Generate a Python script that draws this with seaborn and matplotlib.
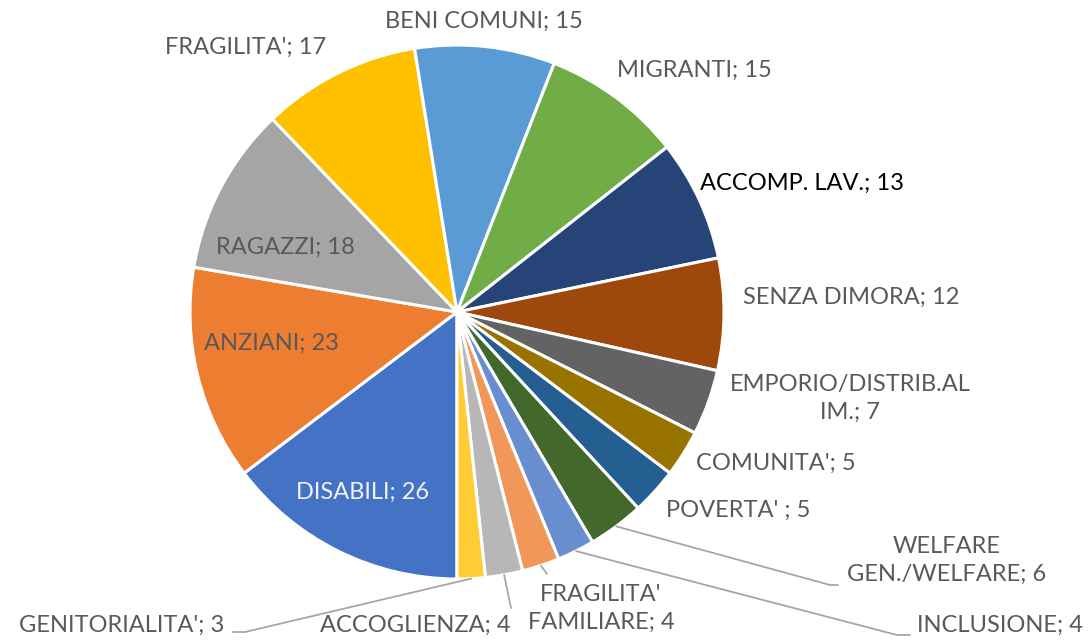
import matplotlib
matplotlib.use("Agg")
import matplotlib.pyplot as plt
import seaborn as sns
import numpy as np

# --- DATA (Excel series order, clockwise from 6 o'clock) ---
categories = ["DISABILI", "ANZIANI", "RAGAZZI", "FRAGILITA'", "BENI COMUNI",
              "MIGRANTI", "ACCOMP. LAV.", "SENZA DIMORA", "EMPORIO/DISTRIB.ALIM.",
              "COMUNITA'", "POVERTA' ", "WELFARE GEN./WELFARE", "INCLUSIONE",
              "FRAGILITA' FAMILIARE", "ACCOGLIENZA", "GENITORIALITA'"]
values = [26, 23, 18, 17, 15, 15, 13, 12, 7, 5, 5, 6, 4, 4, 4, 3]
label_texts = ["DISABILI; 26", "ANZIANI; 23", "RAGAZZI; 18", "FRAGILITA'; 17",
               "BENI COMUNI; 15", "MIGRANTI; 15", "ACCOMP. LAV.; 13",
               "SENZA DIMORA; 12", "EMPORIO/DISTRIB.AL\nIM.; 7", "COMUNITA'; 5",
               "POVERTA' ; 5", "WELFARE\nGEN./WELFARE; 6", "INCLUSIONE; 4",
               "FRAGILITA'\nFAMILIARE; 4", "ACCOGLIENZA; 4", "GENITORIALITA'; 3"]

# --- STYLE ---
colors = ["#4472C4", "#ED7D31", "#A5A5A5", "#FFC000", "#5B9BD5", "#70AD47",
          "#264478", "#9E480E", "#636363", "#997300", "#255E91", "#43682B",
          "#698ED0", "#F1975A", "#B7B7B7", "#FFCD33"]
text_colors = ["#F2F2F2"] + ["#595959"] * 5 + ["#000000"] + ["#595959"] * 9

# label centres in pixels (figure is 1090x642)
label_px = [(363, 492), (272, 343), (285, 247), (246, 47), (484, 21),
            (694, 70), (802, 183), (851, 297), (850, 398), (776, 463),
            (738, 510), (947, 560), (1000, 625), (601, 608), (415, 625),
            (122, 625)]
# leader lines: index -> (end px, horizontal stub end px)
leaders = {11: ((830, 585), (838, 585)),
           12: ((897, 635), (910, 635)),
           13: ((547, 574), None),
           14: ((511, 608), None),
           15: ((245, 632), (233, 632))}

W, H = 1090, 642
CX, CY, R = 457, 312, 267

sns.set_style("white")
plt.rcParams['font.family'] = ['Lato', 'DejaVu Sans']

fig = plt.figure(figsize=(W / 100, H / 100), dpi=100)
ax = fig.add_axes([0, 0, 1, 1])


def px(p):
    return ((p[0] - CX) / R, (CY - p[1]) / R)


wedges, _ = ax.pie(values, colors=colors, startangle=-90, counterclock=False,
                   radius=1.0, center=(0, 0), frame=True,
                   wedgeprops=dict(edgecolor='white', linewidth=2.2))
ax.set_xlim(-CX / R, (W - CX) / R)
ax.set_ylim(-(H - CY) / R, CY / R)
ax.set_aspect('equal')
ax.axis('off')

for i, txt in enumerate(label_texts):
    x, y = px(label_px[i])
    ax.text(x, y, txt, ha='center', va='center', fontsize=17,
            color=text_colors[i], linespacing=1.4)

# leader lines from the outer edge of small slices to their labels
for i, (end, stub) in leaders.items():
    w = wedges[i]
    mid = np.deg2rad((w.theta1 + w.theta2) / 2)
    pts = [(np.cos(mid), np.sin(mid)), px(end)]
    if stub is not None:
        pts.append(px(stub))
    xs, ys = zip(*pts)
    ax.plot(xs, ys, color='#A6A6A6', linewidth=1.3)

fig.savefig('out.png', dpi=100, facecolor='white')
